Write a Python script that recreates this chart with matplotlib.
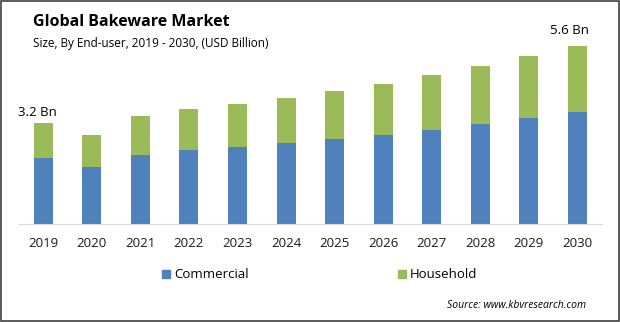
import matplotlib.pyplot as plt
from matplotlib.patches import Rectangle

years = ["2019", "2020", "2021", "2022", "2023", "2024",
         "2025", "2026", "2027", "2028", "2029", "2030"]
commercial = [2.10, 1.81, 2.19, 2.34, 2.45, 2.57, 2.70, 2.82, 2.98, 3.16, 3.35, 3.54]
household = [1.10, 1.02, 1.24, 1.30, 1.35, 1.42, 1.51, 1.61, 1.74, 1.84, 1.97, 2.09]

plt.rcParams['font.family'] = ['Open Sans', 'DejaVu Sans']

fig = plt.figure(figsize=(6.2, 3.22), dpi=100)
ax = fig.add_axes([0.0306, 0.304, 0.940, 0.637])

x = range(len(years))
ax.bar(x, commercial, width=0.39, color='#4f81bd', label='Commercial')
ax.bar(x, household, width=0.39, bottom=commercial, color='#9bbb59', label='Household')

ax.set_xlim(-0.5, 11.5)
ax.set_ylim(0, 6.5)
ax.set_xticks(list(x))
ax.set_xticklabels(years, fontsize=9.5, color='#1a1a1a')
ax.tick_params(axis='x', length=0, pad=9.5)
ax.set_yticks([])
for s in ['top', 'right', 'left']:
    ax.spines[s].set_visible(False)
ax.spines['bottom'].set_color('#d9d9d9')

totals = [c + h for c, h in zip(commercial, household)]
ax.annotate("3.2 Bn", (0, totals[0]), xytext=(-4, 7.5), textcoords='offset points',
            ha='center', va='center', fontsize=9.5)
ax.annotate("5.6 Bn", (11, totals[-1]), xytext=(-6, 11.5), textcoords='offset points',
            ha='center', va='center', fontsize=9.5)

fig.text(0.053, 0.932, "Global Bakeware Market", fontsize=11.5, fontweight='bold',
         va='center', ha='left')
fig.text(0.053, 0.866, "Size, By End-user, 2019 - 2030, (USD Billion)", fontsize=8.5,
         va='center', ha='left')

# legend
fig.patches.append(Rectangle((162 / 620, 1 - 278 / 322), 8 / 620, 8 / 322,
                             transform=fig.transFigure, color='#4f81bd'))
fig.text(174 / 620, 1 - 274 / 322, "Commercial", fontsize=9.5, va='center')
fig.patches.append(Rectangle((398 / 620, 1 - 278 / 322), 8 / 620, 8 / 322,
                             transform=fig.transFigure, color='#9bbb59'))
fig.text(410 / 620, 1 - 274 / 322, "Household", fontsize=9.5, va='center')

fig.text(586 / 620, 1 - 306 / 322, "Source: www.kbvresearch.com", fontsize=7.5,
         style='italic', ha='right', va='center')

fig.patches.append(Rectangle((0.001, 0.002), 0.997, 0.996, transform=fig.transFigure,
                             fill=False, edgecolor='#404040', linewidth=1.2))

fig.savefig("out.png", dpi=100)
